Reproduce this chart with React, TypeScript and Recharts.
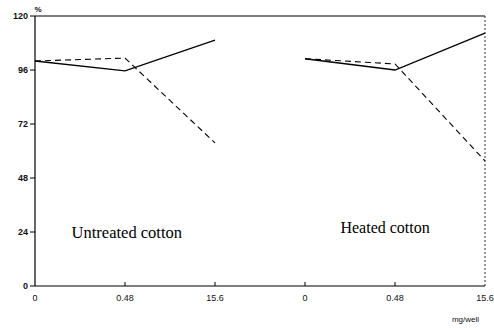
import React from 'react';
import { LineChart, Line, XAxis, YAxis, ReferenceLine, ReferenceDot, Label } from 'recharts';

const positions = [0, 1, 2, 3, 4, 5];
const doseLabels = ['0', '0.48', '15.6', '0', '0.48', '15.6'];
const untreatedSolid = [100, 95.6, 109.3, null, null, null];
const untreatedDashed = [100, 101.3, 63.6, null, null, null];
const heatedSolid = [null, null, null, 101, 96, 112.4];
const heatedDashed = [null, null, null, 101, 98.7, 55.6];
const yTicks = [0, 24, 48, 72, 96, 120];

const data = positions.map((p, i) => ({
  x: p,
  us: untreatedSolid[i],
  ud: untreatedDashed[i],
  hs: heatedSolid[i],
  hd: heatedDashed[i],
}));

const tickFont = 'Arial, "Liberation Sans", sans-serif';
const serif = '"Liberation Serif", "Times New Roman", serif';

const XTick = (props: any) => {
  const { x, y, payload } = props;
  const i = payload.value as number;
  return (
    <g>
      {i > 0 && i < 5 ? <line x1={x} x2={x} y1={y - 8} y2={y - 12} stroke="#000" strokeWidth={1} /> : null}
      <text x={x} y={y + 7} textAnchor="middle" fontSize={9} fontFamily={tickFont} fill="#111">
        {doseLabels[i]}
      </text>
    </g>
  );
};

export default function App() {
  return (
    <div style={{ position: 'absolute', left: 0, top: 0, background: '#fff' }}>
      <LineChart width={494} height={328} data={data} margin={{ top: 16, right: 9, bottom: 0, left: 0 }}>
        <XAxis
          dataKey="x"
          type="number"
          domain={[0, 5]}
          ticks={positions}
          tick={<XTick />}
          tickLine={false}
          axisLine={{ stroke: '#000', strokeWidth: 1.2 }}
          height={42}
        >
          <Label value="mg/well" position="insideBottomRight" offset={6} style={{ fontSize: 8, fontFamily: tickFont, fill: '#111' }} />
        </XAxis>
        <YAxis
          domain={[0, 120]}
          ticks={yTicks}
          width={35}
          tickSize={5}
          tickLine={{ stroke: '#000' }}
          axisLine={{ stroke: '#000', strokeWidth: 1.2 }}
          tick={{ fontSize: 9, fontFamily: tickFont, fill: '#111', fontWeight: 'bold' }}
        />
        <ReferenceLine y={120} stroke="#000" strokeWidth={1.2} />
        <ReferenceLine x={5} stroke="#333" strokeDasharray="2 2" />
        <Line dataKey="us" stroke="#000" strokeWidth={1.3} dot={false} isAnimationActive={false} connectNulls={false} />
        <Line dataKey="ud" stroke="#000" strokeWidth={1.1} strokeDasharray="6 4" dot={false} isAnimationActive={false} connectNulls={false} />
        <Line dataKey="hs" stroke="#000" strokeWidth={1.3} dot={false} isAnimationActive={false} connectNulls={false} />
        <Line dataKey="hd" stroke="#000" strokeWidth={1.1} strokeDasharray="6 4" dot={false} isAnimationActive={false} connectNulls={false} />
        <ReferenceDot x={0} y={120} r={0} stroke="none" fill="none">
          <Label value="%" position="top" offset={4} dx={3} style={{ fontSize: 8, fontFamily: tickFont, fill: '#111', fontWeight: 'bold' }} />
        </ReferenceDot>
        <ReferenceDot x={1.02} y={24} r={0} stroke="none" fill="none">
          <Label value="Untreated cotton" position="center" style={{ fontSize: 16.5, fontFamily: serif, fill: '#000' }} />
        </ReferenceDot>
        <ReferenceDot x={3.89} y={26.2} r={0} stroke="none" fill="none">
          <Label value="Heated cotton" position="center" style={{ fontSize: 16, fontFamily: serif, fill: '#000' }} />
        </ReferenceDot>
      </LineChart>
    </div>
  );
}
